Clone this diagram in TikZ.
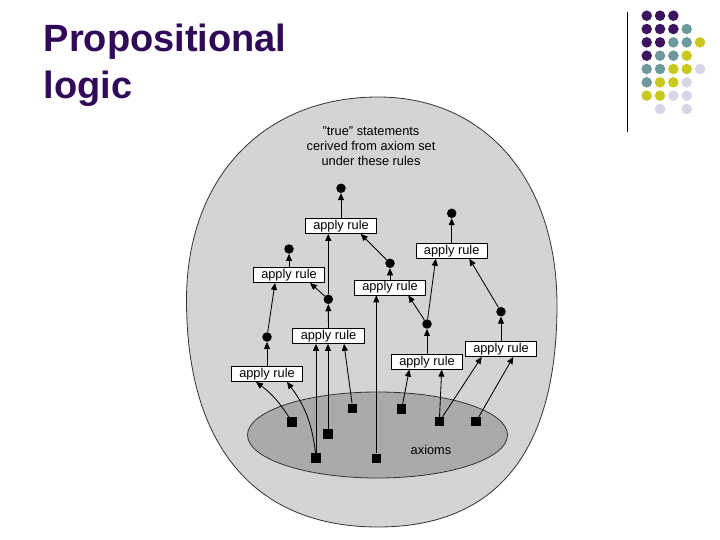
\documentclass[tikz,border=0pt]{standalone}
\usepackage{fontspec}
\setmainfont{Liberation Sans}
\usetikzlibrary{arrows.meta}
\definecolor{titlepurple}{RGB}{48,10,88}
\definecolor{lpurple}{RGB}{60,20,95}
\definecolor{lteal}{RGB}{108,154,156}
\definecolor{lyellow}{RGB}{200,200,30}
\definecolor{llav}{RGB}{214,214,230}
\definecolor{outerfill}{RGB}{212,212,212}
\definecolor{innerfill}{RGB}{170,170,170}
\begin{document}
\begin{tikzpicture}[x=1pt,y=-1pt,
  rulebox/.style={draw=black, line width=0.8pt, fill=white, minimum width=71.5pt,
    minimum height=15pt, inner sep=0pt, font=\fontsize{12.8}{15}\selectfont},
  stmt/.style={circle, fill=black, minimum size=9.5pt, inner sep=0pt},
  axiom/.style={rectangle, fill=black, minimum size=9.5pt, inner sep=0pt},
  conn/.style={line width=0.85pt, -{Triangle[length=7pt,width=6pt]}},
  logodot/.style={circle, minimum size=10.5pt, inner sep=0pt},
  titletext/.style={anchor=base west, inner sep=0pt, text=titlepurple,
    font=\fontsize{38}{46}\selectfont\bfseries},
  plaintext/.style={font=\fontsize{12.8}{15}\selectfont, inner sep=0pt}]
\useasboundingbox (0,0) rectangle (720,540);
\fill[white] (0,0) rectangle (720,540);

% title
\node[titletext] (title1) at (43.5,52) {Propositional};
\node[titletext] (title2) at (43.5,98.5) {logic};

% logo
\draw[line width=0.9pt] (627.3,12) -- (627.3,132);
\foreach \c/\r/\col in {
  1/1/lpurple, 2/1/lpurple, 3/1/lpurple,
  1/2/lpurple, 2/2/lpurple, 3/2/lpurple, 4/2/lteal,
  1/3/lpurple, 2/3/lpurple, 3/3/lteal, 4/3/lteal, 5/3/lyellow,
  1/4/lpurple, 2/4/lteal, 3/4/lteal, 4/4/lyellow,
  1/5/lteal, 2/5/lteal, 3/5/lyellow, 4/5/lyellow, 5/5/llav,
  1/6/lteal, 2/6/lyellow, 3/6/lyellow, 4/6/llav,
  1/7/lyellow, 2/7/lyellow, 3/7/llav, 4/7/llav,
  2/8/llav, 4/8/llav}
  \node[logodot, fill=\col] (logo-\c-\r) at ({633.37+13.33*\c},{2.37+13.33*\r}) {};

% outer region
\filldraw[fill=outerfill, draw=black!80, line width=0.8pt]
  (378,97) .. controls (485.4,97) and (557,180.2) .. (557,305)
  .. controls (557,450) and (498,527) .. (378,527)
  .. controls (255,527) and (186.5,446) .. (186.5,300)
  .. controls (186.5,178.2) and (263.1,97) .. (378,97) -- cycle;

% axioms region
\filldraw[fill=innerfill, draw=black!80, line width=0.8pt]
  (377.5,435) ellipse [x radius=130, y radius=43];

\node[plaintext] (axlabel) at (431,450) {axioms};
\node[plaintext, align=center] (truelabel) at (371,146)
  {"true" statements\\cerived from axiom set\\under these rules};

% axioms
\node[axiom] (s1) at (292,422) {};
\node[axiom] (s2) at (316,458) {};
\node[axiom] (s3) at (328,434) {};
\node[axiom] (s4) at (352.7,408.3) {};
\node[axiom] (s5) at (376.3,458.3) {};
\node[axiom] (s6) at (401.7,409) {};
\node[axiom] (s7) at (439.3,421.7) {};
\node[axiom] (s8) at (476,421.7) {};

% derived statements
\node[stmt] (d1) at (267,337) {};
\node[stmt] (d2) at (328.3,299.3) {};
\node[stmt] (d3) at (289,249) {};
\node[stmt] (d4) at (341,188.3) {};
\node[stmt] (d5) at (390,263.3) {};
\node[stmt] (d6) at (427,324) {};
\node[stmt] (d7) at (501,311.7) {};
\node[stmt] (d8) at (451.7,213.3) {};

% rule boxes
\node[rulebox] (b1) at (267,374) {apply rule};
\node[rulebox] (b2) at (328.5,336) {apply rule};
\node[rulebox] (b3) at (289,275) {apply rule};
\node[rulebox] (b4) at (341,226) {apply rule};
\node[rulebox] (b5) at (390,287.5) {apply rule};
\node[rulebox] (b6) at (427,361.7) {apply rule};
\node[rulebox] (b7) at (501,349) {apply rule};
\node[rulebox] (b8) at (451.7,250.8) {apply rule};

% box outputs
\foreach \i in {1,...,8} \draw[conn] (b\i) -- (d\i);

% inputs
\draw[conn] (s1) to[bend right=10] ([xshift=-11pt]b1.south);
\draw[conn] (s2) to[bend right=15] ([xshift=20pt]b1.south);
\draw[conn] (s2) -- (s2 |- b2.south);
\draw[conn] (s3) -- (s3 |- b2.south);
\draw[conn] (s4) -- ([xshift=15.5pt]b2.south);
\draw[conn] (s5) -- (s5 |- b5.south);
\draw[conn] (s6) -- ([xshift=-17.7pt]b6.south);
\draw[conn] (s7) -- ([xshift=14.7pt]b6.south);
\draw[conn] (s7) -- ([xshift=-19.3pt]b7.south);
\draw[conn] (s8) -- ([xshift=12.3pt]b7.south);
\draw[conn] (d1) -- ([xshift=-14pt]b3.south);
\draw[conn] (d2) -- ([xshift=21pt]b3.south);
\draw[conn] (d2) -- (d2 |- b4.south);
\draw[conn] (d5) -- ([xshift=19.7pt]b4.south);
\draw[conn] (d6) -- ([xshift=18.3pt]b5.south);
\draw[conn] (d6) -- ([xshift=-16pt]b8.south);
\draw[conn] (d7) -- ([xshift=17.6pt]b8.south);
\end{tikzpicture}
\end{document}
